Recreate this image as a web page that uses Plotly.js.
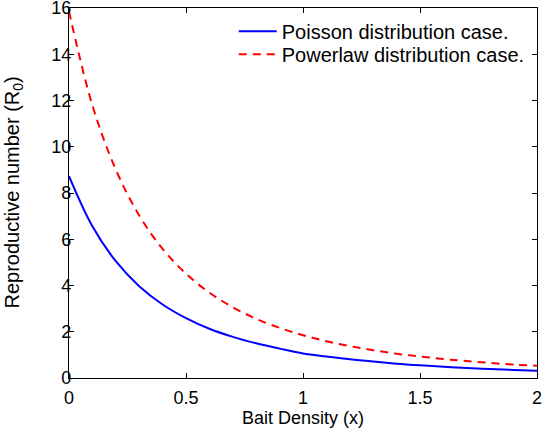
<!DOCTYPE html>
<html>
<head>
<meta charset="utf-8">
<script src="https://cdn.plot.ly/plotly-3.0.1.min.js"></script>
<style>html,body{margin:0;padding:0;background:#fff;}#chart{width:543px;height:429px;}</style>
</head>
<body>
<div id="chart"></div>
<script>
// Bait density values (x)
const baitDensity = [0, 0.1, 0.2, 0.3, 0.4, 0.5, 0.6, 0.7, 0.8, 0.9, 1.0, 1.1, 1.2, 1.3, 1.4, 1.5, 1.6, 1.7, 1.8, 1.9, 2.0];
// Reproductive number, Poisson distribution case
const poissonR0 = [8.73, 6.56, 5.05, 3.97, 3.18, 2.59, 2.13, 1.78, 1.50, 1.27, 1.06, 0.93, 0.81, 0.71, 0.62, 0.55, 0.49, 0.43, 0.39, 0.35, 0.31];
// Reproductive number, Powerlaw distribution case
const powerlawR0 = [15.85, 11.79, 9.01, 7.03, 5.58, 4.51, 3.69, 3.06, 2.56, 2.17, 1.85, 1.59, 1.38, 1.20, 1.05, 0.93, 0.82, 0.73, 0.65, 0.58, 0.53];
const seriesNames = ["Poisson distribution case.", "Powerlaw distribution case."];
const xTicks = [0, 0.5, 1, 1.5, 2];
const yTicks = [0, 2, 4, 6, 8, 10, 12, 14, 16];
const xTitle = "Bait Density (x)";
const yTitle = "Reproductive number (R<sub>0</sub>)";

const font = "Liberation Sans, Arial, Helvetica, sans-serif";

const traces = [
  {x: baitDensity, y: poissonR0, name: seriesNames[0], mode: "lines", legend: "legend",
   line: {color: "#0000ff", width: 2, shape: "spline"}},
  {x: baitDensity, y: powerlawR0, name: seriesNames[1], mode: "lines", legend: "legend2",
   line: {color: "#ff0000", width: 2, dash: "8px,6px", shape: "spline"}}
];

const axisCommon = {
  showgrid: false, zeroline: false, showline: true, linecolor: "#000", linewidth: 1.2,
  mirror: "ticks", ticks: "inside", ticklen: 5, tickwidth: 1, tickcolor: "#000",
  ticklabeloverflow: "allow",
  tickfont: {family: font, size: 18, color: "#000"}
};

const legendCommon = {xanchor: "left", yanchor: "top", bgcolor: "rgba(0,0,0,0)", borderwidth: 0,
  itemwidth: 38, font: {family: font, size: 20, color: "#000"}};

const layout = {
  width: 543, height: 429,
  margin: {l: 69, r: 6, t: 8, b: 51},
  paper_bgcolor: "#fff", plot_bgcolor: "#fff",
  font: {family: font, color: "#000"},
  xaxis: Object.assign({}, axisCommon, {
    range: [0, 2], tickvals: xTicks, ticktext: xTicks.map(String), ticklabelstandoff: 3,
    title: {text: xTitle, font: {family: font, size: 18, color: "#000"}, standoff: 4}
  }),
  yaxis: Object.assign({}, axisCommon, {
    range: [0, 16], tickvals: yTicks, ticktext: yTicks.map(String), ticklabelstandoff: -7
  }),
  annotations: [{
    text: yTitle, xref: "paper", yref: "paper", x: -0.1206, y: 0.5,
    xanchor: "center", yanchor: "middle", textangle: -90, showarrow: false,
    font: {family: font, size: 20, color: "#000"}
  }],
  showlegend: true,
  legend: Object.assign({}, legendCommon, {x: 0.352, y: 0.990}),
  legend2: Object.assign({}, legendCommon, {x: 0.352, y: 0.928})
};

Plotly.newPlot("chart", traces, layout, {displayModeBar: false, staticPlot: true});
</script>
</body>
</html>
